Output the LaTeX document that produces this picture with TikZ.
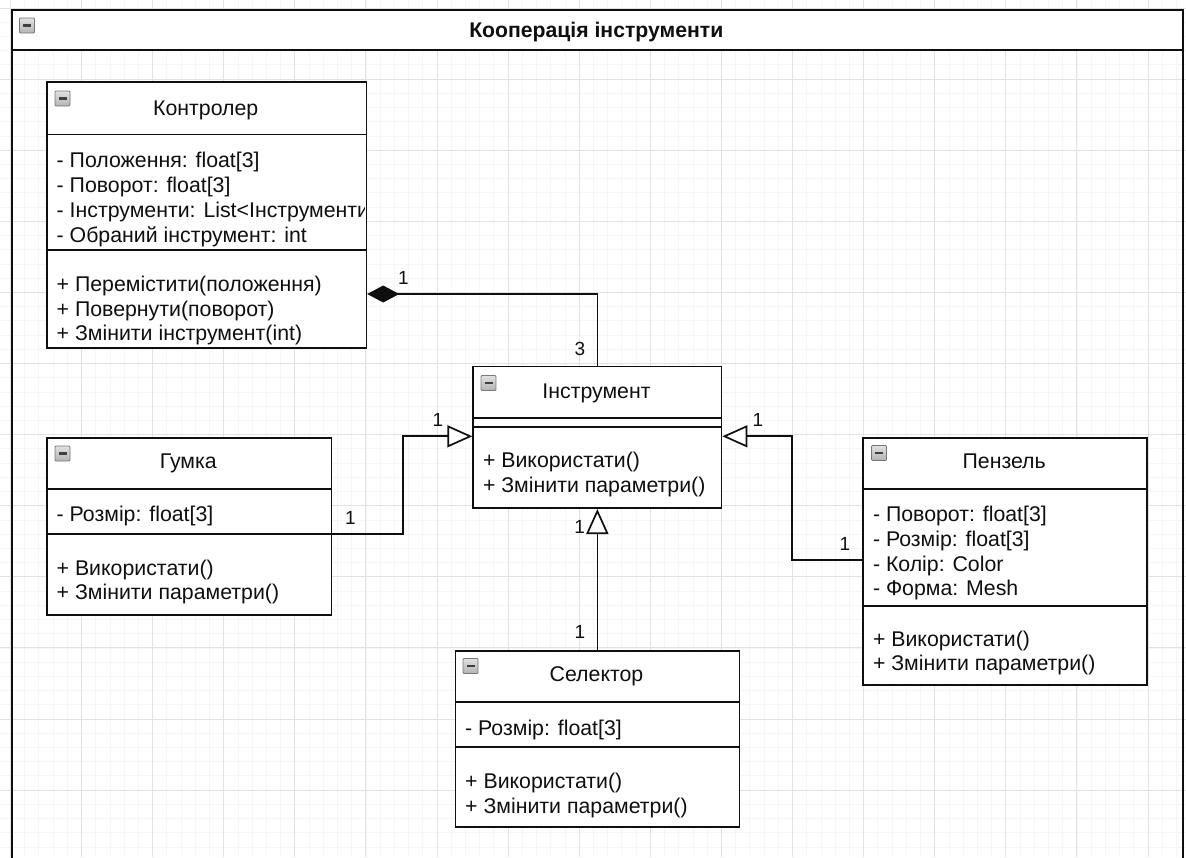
\documentclass[tikz,border=0pt]{standalone}
\usepackage{fontspec}
\setmainfont{Liberation Sans}
\usetikzlibrary{arrows.meta}

\definecolor{gridmajor}{RGB}{226,226,226}
\definecolor{gridminor}{RGB}{246,246,246}
\definecolor{ink}{RGB}{15,15,15}
\definecolor{iconfill}{RGB}{200,200,200}
\definecolor{iconedge}{RGB}{120,120,120}

\tikzset{
  classbox/.style={draw=ink, line width=1.7pt, fill=white, rectangle, inner sep=0pt, anchor=north west},
  divider/.style={draw=ink, line width=1.7pt},
  member/.style={inner sep=0pt, anchor=base west, font=\fontsize{21.3}{25}\selectfont, text=ink},
  classname/.style={inner sep=0pt, anchor=base, font=\fontsize{21.3}{25}\selectfont, text=ink},
  mult/.style={inner sep=0pt, anchor=base, font=\fontsize{19}{22}\selectfont, text=ink},
  link/.style={draw=ink, line width=1.7pt},
  inherit/.style={link, -{Triangle[length=25pt, width=22pt, fill=white]}},
  compose/.style={link, {Diamond[length=32pt, width=17pt]}-},
  minusicon/.pic={
    \shade[top color=iconfill!55, bottom color=iconfill!90!black, draw=iconedge, line width=0.8pt, rounded corners=1pt]
      (0,0) rectangle (15,15);
    \draw[line width=2.4pt, black!75] (3.5,7.5) -- (11.5,7.5);
  }
}

\begin{document}
\begin{tikzpicture}[x=1pt, y=-1pt]
\useasboundingbox (0,0) rectangle (1186,857);
\clip (0,0) rectangle (1186,857);
\fill[white] (0,0) rectangle (1186,857);

% background grid: fine lines, then every fifth line stronger
\foreach \i in {-1,...,83}
  \draw[gridminor, line width=0.8pt] ({10.4+14.22*\i},0) -- ++(0,857);
\foreach \j in {0,...,60}
  \draw[gridminor, line width=0.8pt] (0,{8+14.22*\j}) -- ++(1186,0);
\foreach \i in {0,...,16}
  \draw[gridmajor, line width=1pt] ({10.4+71.1*\i},0) -- ++(0,857);
\foreach \j in {0,...,12}
  \draw[gridmajor, line width=1pt] (0,{8+71.1*\j}) -- ++(1186,0);

% outer frame with its title band
\node[draw=ink, line width=2.2pt, rectangle, inner sep=0pt, anchor=north west,
      minimum width=1171.5pt, minimum height=880pt] (frame) at (10.5,9) {};
\node[draw=ink, line width=2.2pt, fill=white, rectangle, inner sep=0pt, anchor=north west,
      minimum width=1171.5pt, minimum height=40pt] (titlebar) at (10.5,9) {};
\node[inner sep=0pt, anchor=base, font=\bfseries\fontsize{21.2}{24}\selectfont, text=ink]
  (title) at (596.3,37) {Кооперація інструменти};
\pic at (19.5,18) {minusicon};

% class Контролер
\node[classbox, minimum width=319.5pt, minimum height=266pt] (ctrl) at (46,81) {};
\draw[divider] ([yshift=-53.5pt]ctrl.north west) -- ([yshift=-53.5pt]ctrl.north east);
\draw[divider] ([yshift=-169pt]ctrl.north west) -- ([yshift=-169pt]ctrl.north east);
\pic at (55,91) {minusicon};
\node[classname] (ctrlname) at (205.75,115) {Контролер};
\node[member] (ctrla1) at (56.5,167.5) {- Положення: float[3]};
\node[member] (ctrla2) at (56.5,192.5) {- Поворот: float[3]};
\begin{scope}
  \clip (46,81) rectangle (364.6,347);
  \node[member] (ctrla3) at (56.5,217.5) {- Інструменти: List<Інструменти>};
\end{scope}
\node[member] (ctrla4) at (56.5,242.3) {- Обраний інструмент: int};
\node[member] (ctrlm1) at (56.5,291.5) {+ Перемістити(положення)};
\node[member] (ctrlm2) at (56.5,316) {+ Повернути(поворот)};
\node[member] (ctrlm3) at (56.5,340.5) {+ Змінити інструмент(int)};

% class Інструмент
\node[classbox, minimum width=248.4pt, minimum height=141.6pt] (instr) at (472.3,365.7) {};
\draw[divider] ([yshift=-52pt]instr.north west) -- ([yshift=-52pt]instr.north east);
\draw[divider] ([yshift=-61pt]instr.north west) -- ([yshift=-61pt]instr.north east);
\pic at (481,375.5) {minusicon};
\node[classname] (instrname) at (596.5,398.3) {Інструмент};
\node[member] (instrm1) at (482.8,467.7) {+ Використати()};
\node[member] (instrm2) at (482.8,492.3) {+ Змінити параметри()};

% class Гумка
\node[classbox, minimum width=284.7pt, minimum height=177pt] (gumka) at (46,437) {};
\draw[divider] ([yshift=-52pt]gumka.north west) -- ([yshift=-52pt]gumka.north east);
\draw[divider] ([yshift=-96.7pt]gumka.north west) -- ([yshift=-96.7pt]gumka.north east);
\pic at (55,446) {minusicon};
\node[classname] (gumkaname) at (188.35,468.3) {Гумка};
\node[member] (gumkaa1) at (56.5,521.7) {- Розмір: float[3]};
\node[member] (gumkam1) at (56.5,575) {+ Використати()};
\node[member] (gumkam2) at (56.5,599.5) {+ Змінити параметри()};

% class Пензель
\node[classbox, minimum width=283.7pt, minimum height=247.3pt] (pen) at (862.3,437) {};
\draw[divider] ([yshift=-52pt]pen.north west) -- ([yshift=-52pt]pen.north east);
\draw[divider] ([yshift=-168.7pt]pen.north west) -- ([yshift=-168.7pt]pen.north east);
\pic at (871.5,445.5) {minusicon};
\node[classname] (penname) at (1004.15,468.3) {Пензель};
\node[member] (pena1) at (872.8,521.7) {- Поворот: float[3]};
\node[member] (pena2) at (872.8,546.5) {- Розмір: float[3]};
\node[member] (pena3) at (872.8,571) {- Колір: Color};
\node[member] (pena4) at (872.8,595.5) {- Форма: Mesh};
\node[member] (penm1) at (872.8,646) {+ Використати()};
\node[member] (penm2) at (872.8,670.5) {+ Змінити параметри()};

% class Селектор
\node[classbox, minimum width=284pt, minimum height=176pt] (sel) at (454.5,650) {};
\draw[divider] ([yshift=-52.3pt]sel.north west) -- ([yshift=-52.3pt]sel.north east);
\draw[divider] ([yshift=-97.3pt]sel.north west) -- ([yshift=-97.3pt]sel.north east);
\pic at (463,658.5) {minusicon};
\node[classname] (selname) at (596.5,681.7) {Селектор};
\node[member] (sela1) at (465,735) {- Розмір: float[3]};
\node[member] (selm1) at (465,788.3) {+ Використати()};
\node[member] (selm2) at (465,813) {+ Змінити параметри()};

% relations
\draw[compose] ([yshift=-213pt]ctrl.north east) -| (instr.north);
\draw[inherit] ([yshift=-96.7pt]gumka.north east) -- ++(70.7,0) |- ([yshift=-70.6pt]instr.north west);
\draw[inherit] ([yshift=-123.3pt]pen.north west) -- ++(-70.5,0) |- ([yshift=-70.6pt]instr.north east);
\draw[inherit] (sel.north) -- (instr.south);

% multiplicities
\node[mult] (m1) at (403.5,284) {1};
\node[mult] (m2) at (580,355) {3};
\node[mult] (m3) at (438,426) {1};
\node[mult] (m4) at (350.5,524) {1};
\node[mult] (m5) at (758,426) {1};
\node[mult] (m6) at (845,550) {1};
\node[mult] (m7) at (579.7,533.5) {1};
\node[mult] (m8) at (580,638) {1};
\end{tikzpicture}
\end{document}
